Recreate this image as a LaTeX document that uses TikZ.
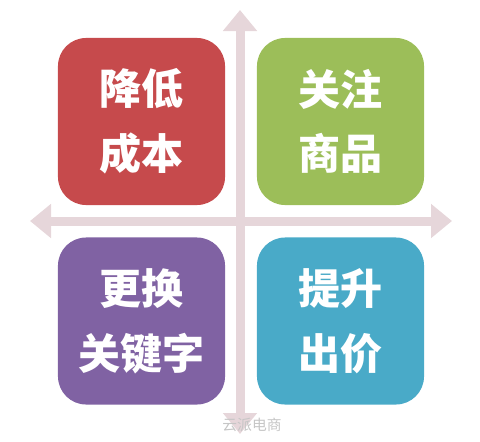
\documentclass[tikz,border=0pt]{standalone}
\usepackage{fontspec}
\usepackage{tikz}
\usetikzlibrary{arrows.meta}
\newfontfamily\cjk{Noto Sans CJK SC}

\definecolor{axispink}{RGB}{230,214,218}
\definecolor{boxred}{RGB}{198,74,76}
\definecolor{boxgreen}{RGB}{156,190,89}
\definecolor{boxpurple}{RGB}{128,98,163}
\definecolor{boxteal}{RGB}{73,170,200}

\tikzset{
  quad/.style={rounded corners=20, minimum width=4.175cm, minimum height=4.175cm,
    text=white, align=center, font=\cjk\bfseries\fontsize{29.9}{46}\selectfont},
  axis/.style={draw=axispink, line width=0.225cm,
    -{Triangle[width=0.825cm,length=0.525cm]}},
}

\begin{document}
\begin{tikzpicture}[x=0.025cm, y=-0.025cm]
            \useasboundingbox (0,0) rectangle (480,441);
            % axes
            \coordinate (o) at (240,221);
            \coordinate (top) at (240,10);
            \coordinate (bottom) at (240,434);
            \coordinate (left) at (30,221);
            \coordinate (right) at (452,221);
            \draw[axis] (o) -- (top);
            \draw[axis] (o) -- (bottom);
            \draw[axis] (o) -- (left);
            \draw[axis] (o) -- (right);
            % quadrants
            \node[quad, fill=boxred] (cost) at (141.5,121.5) {降低\\成本};
            \node[quad, fill=boxgreen] (goods) at (340.5,121.5) {关注\\商品};
            \node[quad, fill=boxpurple] (keyword) at (141.5,321) {更换\\关键字};
            \node[quad, fill=boxteal] (bid) at (340.5,321) {提升\\出价};
            % watermark
            \node[text=gray!45, font=\cjk\fontsize{10.5}{12}\selectfont] (mark) at (252,425) {云派电商};
        \end{tikzpicture}
\end{document}
